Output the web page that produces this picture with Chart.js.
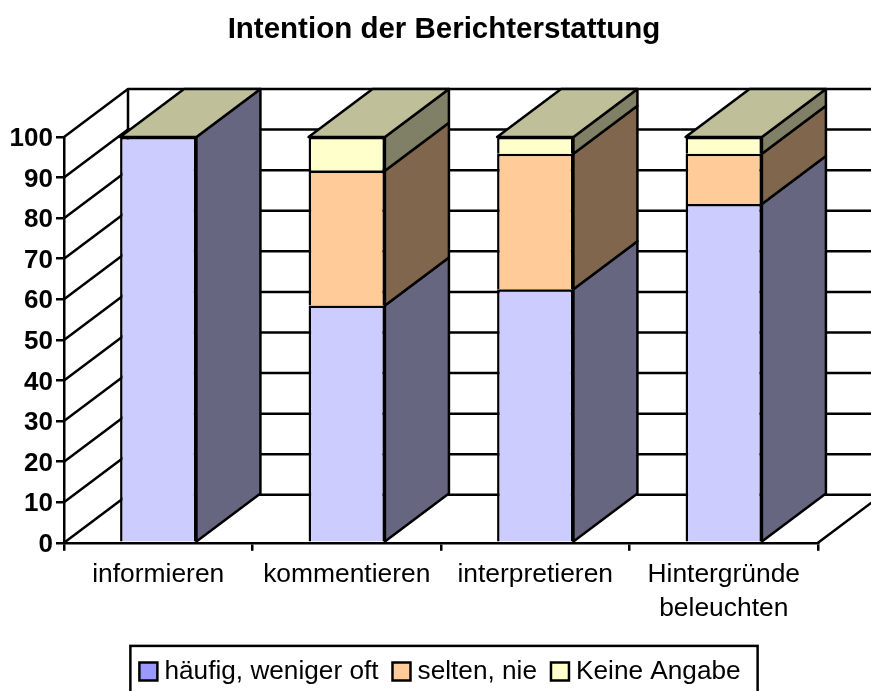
<!DOCTYPE html>
<html><head><meta charset="utf-8">
<style>html,body{margin:0;padding:0;background:#fff}#w{width:871px;height:691px}canvas{display:block}</style>
<script src="https://cdn.jsdelivr.net/npm/chart.js@4"></script>
</head><body><div id="w"><canvas id="c"></canvas></div>
<script>
const categories = ['informieren','kommentieren','interpretieren',['Hintergründe','beleuchten']];
const haeufig = [100, 58.5, 62.5, 83.5];
const selten = [0, 33.2, 33.4, 12.4];
const keineAngabe = [0, 8.3, 4.1, 4.1];
const seriesNames = ['häufig, weniger oft','selten, nie','Keine Angabe'];
const frontColors = ['#CCCCFF','#FFCC99','#FFFFCC'];
const sideColors = ['#666680','#80664D','#808066'];
const topColor = '#BFBF99';
const legendColors = ['#9999FF','#FFCC99','#FFFFCC'];
const DEPTH_X = 64, DEPTH_Y = 48, LINE = 2.5;

function poly(ctx, pts, fill){
  ctx.beginPath();
  pts.forEach((p,i)=> i ? ctx.lineTo(p[0],p[1]) : ctx.moveTo(p[0],p[1]));
  ctx.closePath();
  if (fill){ ctx.fillStyle = fill; ctx.fill(); }
  ctx.stroke();
}
const box3d = {
  id:'box3d',
  afterLayout(chart){
    chart.titleBlock.left = 17; chart.titleBlock.right = 871;
    const lg = chart.legend;
    lg.left = 0; lg.right = 886;
    lg.top += 3.5; lg.bottom += 3.5;
    lg.adjustHitBoxes();
  },
  beforeDatasetsDraw(chart){
    const {ctx, chartArea:a, scales:{y}} = chart;
    ctx.save();
    ctx.strokeStyle='#000'; ctx.lineWidth=LINE; ctx.lineJoin='round';
    y.ticks.forEach(t=>{
      const py = y.getPixelForValue(t.value);
      ctx.beginPath();
      ctx.moveTo(a.left,py);
      ctx.lineTo(a.left+DEPTH_X,py-DEPTH_Y);
      ctx.lineTo(a.right+DEPTH_X,py-DEPTH_Y);
      ctx.stroke();
    });
    ctx.beginPath();
    ctx.moveTo(a.left+DEPTH_X,y.getPixelForValue(0)-DEPTH_Y);
    ctx.lineTo(a.left+DEPTH_X,y.getPixelForValue(100)-DEPTH_Y);
    ctx.moveTo(a.right,a.bottom);
    ctx.lineTo(a.right+DEPTH_X,a.bottom-DEPTH_Y);
    ctx.stroke();
    chart.data.datasets.forEach((ds,i)=>{
      chart.getDatasetMeta(i).data.forEach((b,j)=>{
        const p = b.getProps(['x','y','base','width'],true);
        const r = p.x+p.width/2, l = p.x-p.width/2;
        if (Math.abs(p.base-p.y) > 0.5){
          poly(ctx,[[r,p.y],[r+DEPTH_X,p.y-DEPTH_Y],[r+DEPTH_X,p.base-DEPTH_Y],[r,p.base]],sideColors[i]);
        }
        if (i === chart.data.datasets.length-1){
          poly(ctx,[[l,p.y],[l+DEPTH_X,p.y-DEPTH_Y],[r+DEPTH_X,p.y-DEPTH_Y],[r,p.y]],topColor);
        }
      });
    });
    ctx.restore();
  },
  afterDraw(chart){
    const lg = chart.legend, h = lg.legendHitBoxes;
    if (!h || !h.length) return;
    const {ctx} = chart;
    const last = h[h.length-1];
    const l = h[0].left-15, r = last.left+last.width+17;
    const cy = (lg.top+lg.bottom)/2;
    ctx.save(); ctx.strokeStyle='#000'; ctx.lineWidth=LINE;
    ctx.strokeRect(l,cy-20.5,r-l,70);
    ctx.restore();
  }
};
Chart.defaults.font.family = '"Liberation Sans", Arial, sans-serif';
Chart.defaults.color = '#000';
new Chart(document.getElementById('c'),{
  type:'bar',
  data:{labels:categories,datasets:[haeufig,selten,keineAngabe].map((d,i)=>({
    label:seriesNames[i],data:d,backgroundColor:frontColors[i],borderColor:'#000',
    borderWidth:{top:LINE,left:LINE,right:LINE,bottom:0},borderSkipped:false,
    barPercentage:0.405,categoryPercentage:1
  }))},
  plugins:[box3d],
  options:{
    responsive:true,maintainAspectRatio:false,animation:false,
    layout:{padding:{left:0,right:53,top:0,bottom:0}},
    plugins:{
      tooltip:{enabled:false},
      title:{display:true,text:'Intention der Berichterstattung',font:{size:29.5,weight:'bold'},color:'#000',
        padding:{top:12,bottom:89.6}},
      legend:{position:'bottom',align:'center',
        labels:{usePointStyle:true,pointStyle:'rect',boxWidth:6,boxHeight:18,font:{size:26.2},color:'#000',padding:20,
          generateLabels(chart){
            return chart.data.datasets.map((ds,i)=>({text:ds.label,fillStyle:legendColors[i],strokeStyle:'#000',lineWidth:LINE,
              pointStyle:'rect',datasetIndex:i,hidden:false}));
          }}}
    },
    scales:{
      x:{stacked:true,grid:{offset:true,drawOnChartArea:false,drawTicks:true,tickLength:8,color:'#000',lineWidth:LINE},
        border:{color:'#000',width:LINE,display:true},
        ticks:{font:{size:26.4,lineHeight:1.29},padding:7,maxRotation:0,minRotation:0,autoSkip:false,color:'#000'},
        afterFit(s){s.height=92;}},
      y:{stacked:true,min:0,max:100,grid:{drawOnChartArea:false,drawTicks:true,tickLength:8,color:'#000',lineWidth:LINE},
        border:{color:'#000',width:LINE,display:true},
        ticks:{stepSize:10,font:{size:26,weight:'bold'},padding:3,labelOffset:2,color:'#000'},
        afterFit(s){s.width=64;}}
    }
  }
});
</script></body></html>
